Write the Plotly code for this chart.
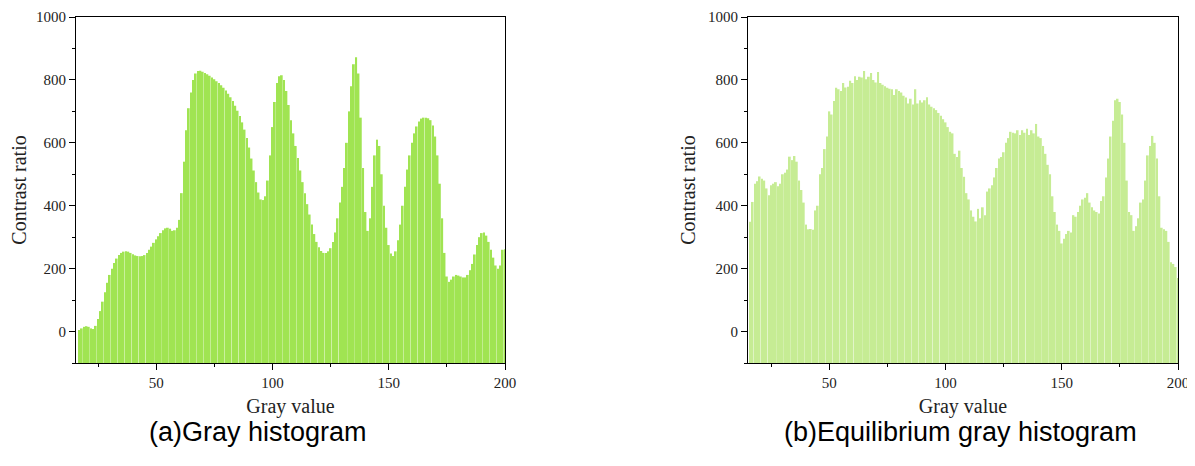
import plotly.graph_objects as go

# ---------------- data ----------------
gray_a = list(range(17, 201))
contrast_a = [
    5, 10, 15, 17, 15, 10, 8, 18, 40, 65, 95, 125, 155, 180, 200, 218, 232, 243, 250, 254,
    255, 254, 250, 246, 242, 240, 239, 240, 243, 250, 260, 270, 282, 293, 303, 313, 322, 328, 330, 327,
    320, 322, 330, 355, 440, 540, 640, 710, 760, 800, 820, 828, 829, 826, 822, 818, 813, 808, 802, 796,
    790, 783, 775, 766, 756, 745, 733, 718, 702, 685, 665, 642, 615, 585, 550, 512, 475, 442, 420, 418,
    430, 480, 560, 650, 730, 790, 812, 815, 800, 765, 720, 672, 630, 590, 552, 512, 475, 440, 405, 372,
    340, 310, 285, 268, 256, 250, 250, 255, 265, 285, 315, 360, 410, 460, 520, 600, 700, 780, 850, 872,
    820, 680, 520, 380, 320, 360, 460, 560, 610, 590, 500, 400, 330, 275, 248, 240, 255, 290, 340, 400,
    460, 515, 560, 600, 630, 652, 668, 677, 680, 680, 678, 672, 655, 620, 560, 470, 360, 250, 175, 158,
    165, 175, 180, 178, 175, 172, 172, 180, 195, 215, 245, 275, 300, 313, 315, 305, 285, 260, 235, 210,
    200, 210, 260, 262,
]

gray_b = list(range(16, 201))
contrast_b = [
    349, 412, 470, 478, 493, 486, 480, 455, 433, 465, 470, 475, 462, 470, 500, 505, 515, 556, 545, 558,
    540, 480, 450, 410, 340, 325, 326, 324, 385, 400, 500, 520, 580, 620, 700, 690, 733, 775, 770, 765,
    790, 776, 778, 797, 790, 812, 800, 810, 808, 828, 802, 810, 822, 800, 792, 825, 790, 785, 780, 775,
    772, 770, 752, 770, 765, 760, 750, 744, 725, 740, 722, 770, 725, 735, 728, 735, 745, 722, 715, 710,
    704, 695, 686, 675, 665, 650, 635, 630, 565, 555, 575, 520, 492, 440, 420, 385, 365, 350, 390, 360,
    395, 370, 445, 455, 465, 490, 520, 550, 555, 570, 600, 615, 635, 632, 630, 640, 625, 640, 632, 645,
    625, 640, 630, 660, 620, 615, 590, 565, 530, 500, 430, 380, 340, 320, 280, 295, 310, 320, 315, 370,
    365, 380, 400, 420, 425, 440, 410, 395, 385, 380, 375, 415, 430, 490, 550, 620, 670, 735, 740, 730,
    690, 600, 480, 380, 370, 320, 335, 360, 410, 420, 480, 560, 590, 622, 600, 550, 430, 330, 325, 320,
    285, 220, 215, 205, 170,
]

x_ticks = [50, 100, 150, 200]
y_ticks = [0, 200, 400, 600, 800, 1000]
titles = ["(a)Gray histogram", "(b)Equilibrium gray histogram"]
x_title = "Gray value"
y_title = "Contrast ratio"

Y_MIN = -100

# ---------------- geometry (page pixels; the page body has an 8px margin) ----------------
OFF = 8
W, H = 1195 - OFF, 466 - 2 * OFF
TOP, BOT = 17 - OFF, 363 - OFF  # plot area vertical bounds in figure pixels


def fx(px):
    return (px - OFF) / W


def fy(py):
    return (BOT - (py - OFF)) / (BOT - TOP)


fig = go.Figure()

fig.add_trace(go.Bar(
    x=gray_a, y=[v - Y_MIN for v in contrast_a], base=Y_MIN,
    marker=dict(color="#a0e452", line=dict(width=0)),
    xaxis="x", yaxis="y", showlegend=False,
))
fig.add_trace(go.Bar(
    x=gray_b, y=[v - Y_MIN for v in contrast_b], base=Y_MIN,
    marker=dict(color="#c6ec94", line=dict(width=0)),
    xaxis="x2", yaxis="y2", showlegend=False,
))

serif = "Liberation Serif, Times New Roman, serif"
tickfont = dict(family=serif, size=15, color="#222")
titlefont = dict(family=serif, size=20, color="#222")


def xaxis(domain, rng, anchor):
    return dict(
        domain=domain, range=rng, anchor=anchor, automargin=False,
        tickmode="array", tickvals=x_ticks, ticktext=[str(t) for t in x_ticks],
        ticks="outside", ticklen=6, tickwidth=1, tickcolor="black",
        minor=dict(tickmode="array", tickvals=[25, 75, 125, 175], ticks="outside",
                   ticklen=3, tickwidth=1, tickcolor="black"),
        showline=True, linecolor="black", linewidth=1.2, mirror=True,
        showgrid=False, zeroline=False, tickfont=tickfont,
        title=dict(text=x_title, font=titlefont, standoff=8),
    )


def yaxis(anchor):
    return dict(
        domain=[0, 1], range=[Y_MIN, 1000], anchor=anchor, automargin=False,
        tickmode="array", tickvals=y_ticks, ticktext=[str(t) for t in y_ticks],
        ticks="outside", ticklen=6, tickwidth=1, tickcolor="black",
        minor=dict(tickmode="array", tickvals=[-100, 100, 300, 500, 700, 900], ticks="outside",
                   ticklen=3, tickwidth=1, tickcolor="black"),
        showline=True, linecolor="black", linewidth=1.2, mirror=True,
        showgrid=False, zeroline=False, tickfont=tickfont,
        title=dict(text=y_title, font=titlefont, standoff=6),
    )


cap_font = dict(family="Liberation Sans, Arial, sans-serif", size=27, color="black")
fig.update_layout(
    width=W, height=H,
    margin=dict(l=0, r=0, t=TOP, b=H - BOT, pad=0),
    paper_bgcolor="white", plot_bgcolor="white",
    bargap=0.22,
    xaxis=xaxis([fx(76), fx(505)], [15.5, 200], "y"),
    yaxis=yaxis("x"),
    xaxis2=xaxis([fx(748), fx(1178)], [15, 200], "y2"),
    yaxis2=yaxis("x2"),
    annotations=[
        dict(text=titles[0], x=fx(258), y=fy(432), xref="paper", yref="paper",
             xanchor="center", yanchor="middle", showarrow=False, font=cap_font),
        dict(text=titles[1], x=fx(960), y=fy(432), xref="paper", yref="paper",
             xanchor="center", yanchor="middle", showarrow=False, font=cap_font),
    ],
)

fig.write_html("out.html")
